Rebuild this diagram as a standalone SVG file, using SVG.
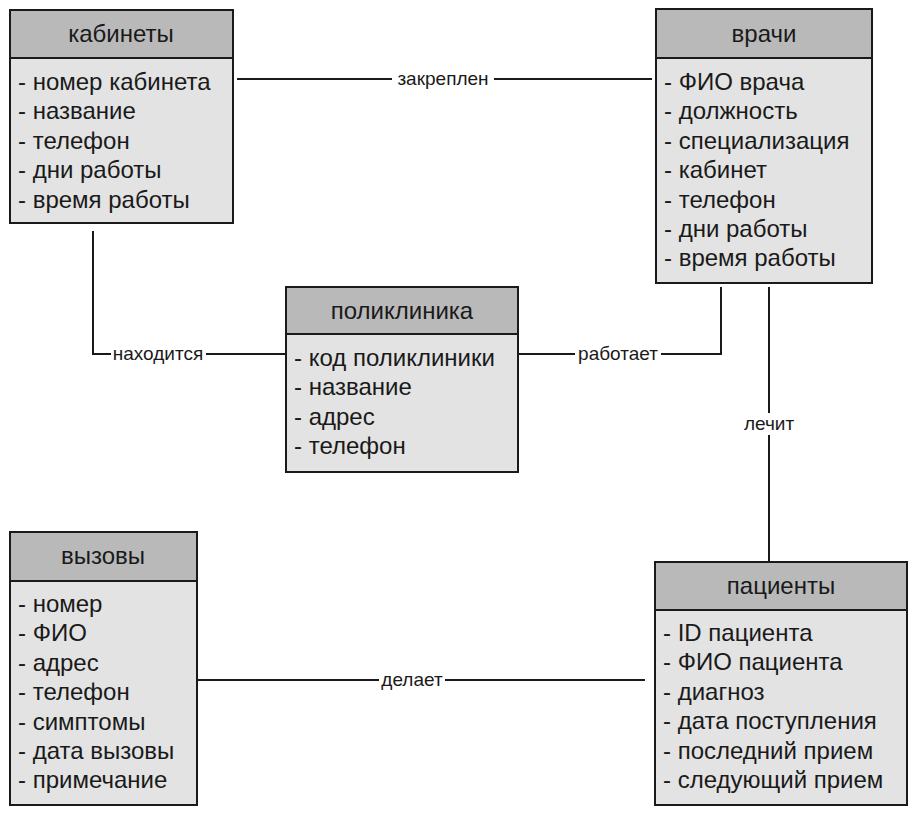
<svg xmlns="http://www.w3.org/2000/svg" width="920" height="814" viewBox="0 0 920 814">
<style>
.body{fill:#e3e3e3;stroke:#1a1a1a;stroke-width:2}
.head{fill:#b9b9b9;stroke:#1a1a1a;stroke-width:2}
.t{font-family:"Liberation Sans",Arial,sans-serif;font-size:24px;fill:#1a1a1a}
.h{font-family:"Liberation Sans",Arial,sans-serif;font-size:24px;fill:#1a1a1a;text-anchor:middle}
.lbl{font-family:"Liberation Sans",Arial,sans-serif;font-size:19px;fill:#1a1a1a;text-anchor:middle}
.ln{fill:none;stroke:#1a1a1a;stroke-width:2}
.bg{fill:#ffffff}
</style>
<rect width="920" height="814" fill="#ffffff"/>
<g id="connectors">
<path class="ln" d="M237,79 H652"/>
<rect class="bg" x="392" y="68" width="102" height="22"/>
<text class="lbl" x="443" y="85">закреплен</text>
<path class="ln" d="M93,231 V354 H285"/>
<rect class="bg" x="111" y="343" width="95" height="22"/>
<text class="lbl" x="158" y="360">находится</text>
<path class="ln" d="M519,354 H721 V287"/>
<rect class="bg" x="575" y="343" width="86" height="22"/>
<text class="lbl" x="618" y="360">работает</text>
<path class="ln" d="M769,287 V562"/>
<rect class="bg" x="739" y="413" width="60" height="22"/>
<text class="lbl" x="769" y="430">лечит</text>
<path class="ln" d="M197,680 H645"/>
<rect class="bg" x="379" y="669" width="66" height="22"/>
<text class="lbl" x="412" y="686">делает</text>
</g>
<g id="kabinety">
<rect class="body" x="10" y="10" width="223" height="213"/>
<rect class="head" x="10" y="10" width="223" height="48"/>
<text class="h" x="121" y="42">кабинеты</text>
<text class="t" x="18" y="90">- номер кабинета</text>
<text class="t" x="18" y="119.4">- название</text>
<text class="t" x="18" y="148.8">- телефон</text>
<text class="t" x="18" y="178.2">- дни работы</text>
<text class="t" x="18" y="207.6">- время работы</text>
</g>
<g id="vrachi">
<rect class="body" x="656" y="9" width="216" height="274"/>
<rect class="head" x="656" y="9" width="216" height="49"/>
<text class="h" x="764" y="42">врачи</text>
<text class="t" x="664" y="90">- ФИО врача</text>
<text class="t" x="664" y="119.4">- должность</text>
<text class="t" x="664" y="148.8">- специализация</text>
<text class="t" x="664" y="178.2">- кабинет</text>
<text class="t" x="664" y="207.6">- телефон</text>
<text class="t" x="664" y="237">- дни работы</text>
<text class="t" x="664" y="266.4">- время работы</text>
</g>
<g id="poliklinika">
<rect class="body" x="286" y="287" width="232" height="185"/>
<rect class="head" x="286" y="287" width="232" height="47"/>
<text class="h" x="402" y="319">поликлиника</text>
<text class="t" x="294" y="366">- код поликлиники</text>
<text class="t" x="294" y="395.4">- название</text>
<text class="t" x="294" y="424.8">- адрес</text>
<text class="t" x="294" y="454.2">- телефон</text>
</g>
<g id="vyzovy">
<rect class="body" x="10" y="532" width="187" height="273"/>
<rect class="head" x="10" y="532" width="187" height="49"/>
<text class="h" x="103" y="564">вызовы</text>
<text class="t" x="18" y="612">- номер</text>
<text class="t" x="18" y="641.4">- ФИО</text>
<text class="t" x="18" y="670.8">- адрес</text>
<text class="t" x="18" y="700.2">- телефон</text>
<text class="t" x="18" y="729.6">- симптомы</text>
<text class="t" x="18" y="759">- дата вызовы</text>
<text class="t" x="18" y="788.4">- примечание</text>
</g>
<g id="patsienty">
<rect class="body" x="655" y="562" width="252" height="243"/>
<rect class="head" x="655" y="562" width="252" height="48"/>
<text class="h" x="781" y="594">пациенты</text>
<text class="t" x="663" y="641">- ID пациента</text>
<text class="t" x="663" y="670.4">- ФИО пациента</text>
<text class="t" x="663" y="699.8">- диагноз</text>
<text class="t" x="663" y="729.2">- дата поступления</text>
<text class="t" x="663" y="758.6">- последний прием</text>
<text class="t" x="663" y="788">- следующий прием</text>
</g>
</svg>
